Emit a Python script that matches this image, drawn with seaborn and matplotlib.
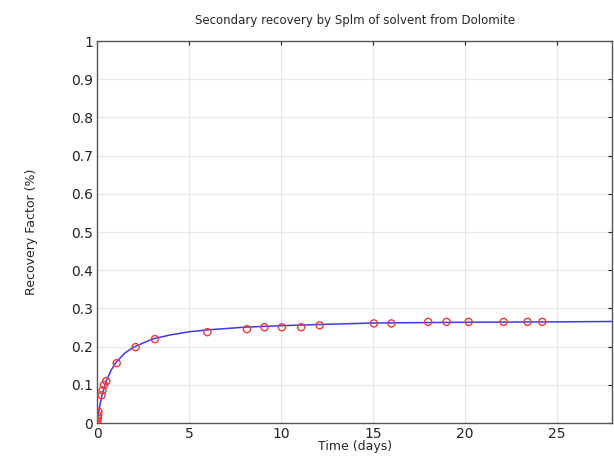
import matplotlib
matplotlib.use("Agg")
import matplotlib.pyplot as plt
import seaborn as sns
import pandas as pd

# measured recovery points (red circles)
time_obs = [0.0, 0.02, 0.04, 0.06, 0.08, 0.25, 0.3, 0.38, 0.5, 1.07, 2.1, 3.15,
            6.0, 8.15, 9.1, 10.05, 11.1, 12.1, 15.05, 16.0, 18.0, 19.0, 20.2,
            22.1, 23.4, 24.2]
rf_obs = [0.0, 0.006, 0.012, 0.02, 0.03, 0.073, 0.086, 0.10, 0.11, 0.157, 0.199,
          0.22, 0.238, 0.246, 0.251, 0.251, 0.251, 0.256, 0.261, 0.261, 0.265,
          0.265, 0.265, 0.265, 0.265, 0.265]

# fitted model curve (blue line)
time_fit = [0, 0.1, 0.25, 0.5, 0.75, 1, 1.5, 2, 3, 4, 5, 6, 8, 10, 12, 15, 20, 25, 28]
rf_fit = [0, 0.032, 0.069, 0.110, 0.137, 0.157, 0.183, 0.199, 0.220, 0.231,
          0.239, 0.244, 0.251, 0.255, 0.258, 0.262, 0.264, 0.265, 0.266]

obs = pd.DataFrame({"time": time_obs, "rf": rf_obs})
fit = pd.DataFrame({"time": time_fit, "rf": rf_fit})

sns.set_style("white")
plt.rcParams["font.family"] = ["DejaVu Sans"]

fig = plt.figure(figsize=(6.14, 4.66), dpi=100)
ax = fig.add_axes([0.158, 0.092, 0.839, 0.82])

sns.lineplot(data=fit, x="time", y="rf", color="#3a3af0", linewidth=1.1, ax=ax)
sns.scatterplot(data=obs, x="time", y="rf", marker="o", s=26, facecolors="none",
                edgecolor="#f03a3a", linewidth=1.0, ax=ax, zorder=3)

ax.set_xlim(0, 28)
ax.set_ylim(0, 1)
ax.set_xticks([0, 5, 10, 15, 20, 25])
ax.set_yticks([0, 0.1, 0.2, 0.3, 0.4, 0.5, 0.6, 0.7, 0.8, 0.9, 1])
ax.set_yticklabels(["0", "0.1", "0.2", "0.3", "0.4", "0.5", "0.6", "0.7", "0.8", "0.9", "1"])
ax.grid(True, color="#e6e6e6", linewidth=0.8)
ax.tick_params(direction="in", length=3, labelsize=10, colors="#222222", pad=3,
               top=True, right=True)
for s in ax.spines.values():
    s.set_color("#555555")
    s.set_linewidth(1.0)

ax.set_title("Secondary recovery by Splm of solvent from Dolomite", fontsize=8.5, pad=12)
ax.set_xlabel("Time (days)", fontsize=9, labelpad=-1)
ax.set_ylabel("Recovery Factor (%)", fontsize=9, labelpad=24)

fig.savefig("out.png", dpi=100)
